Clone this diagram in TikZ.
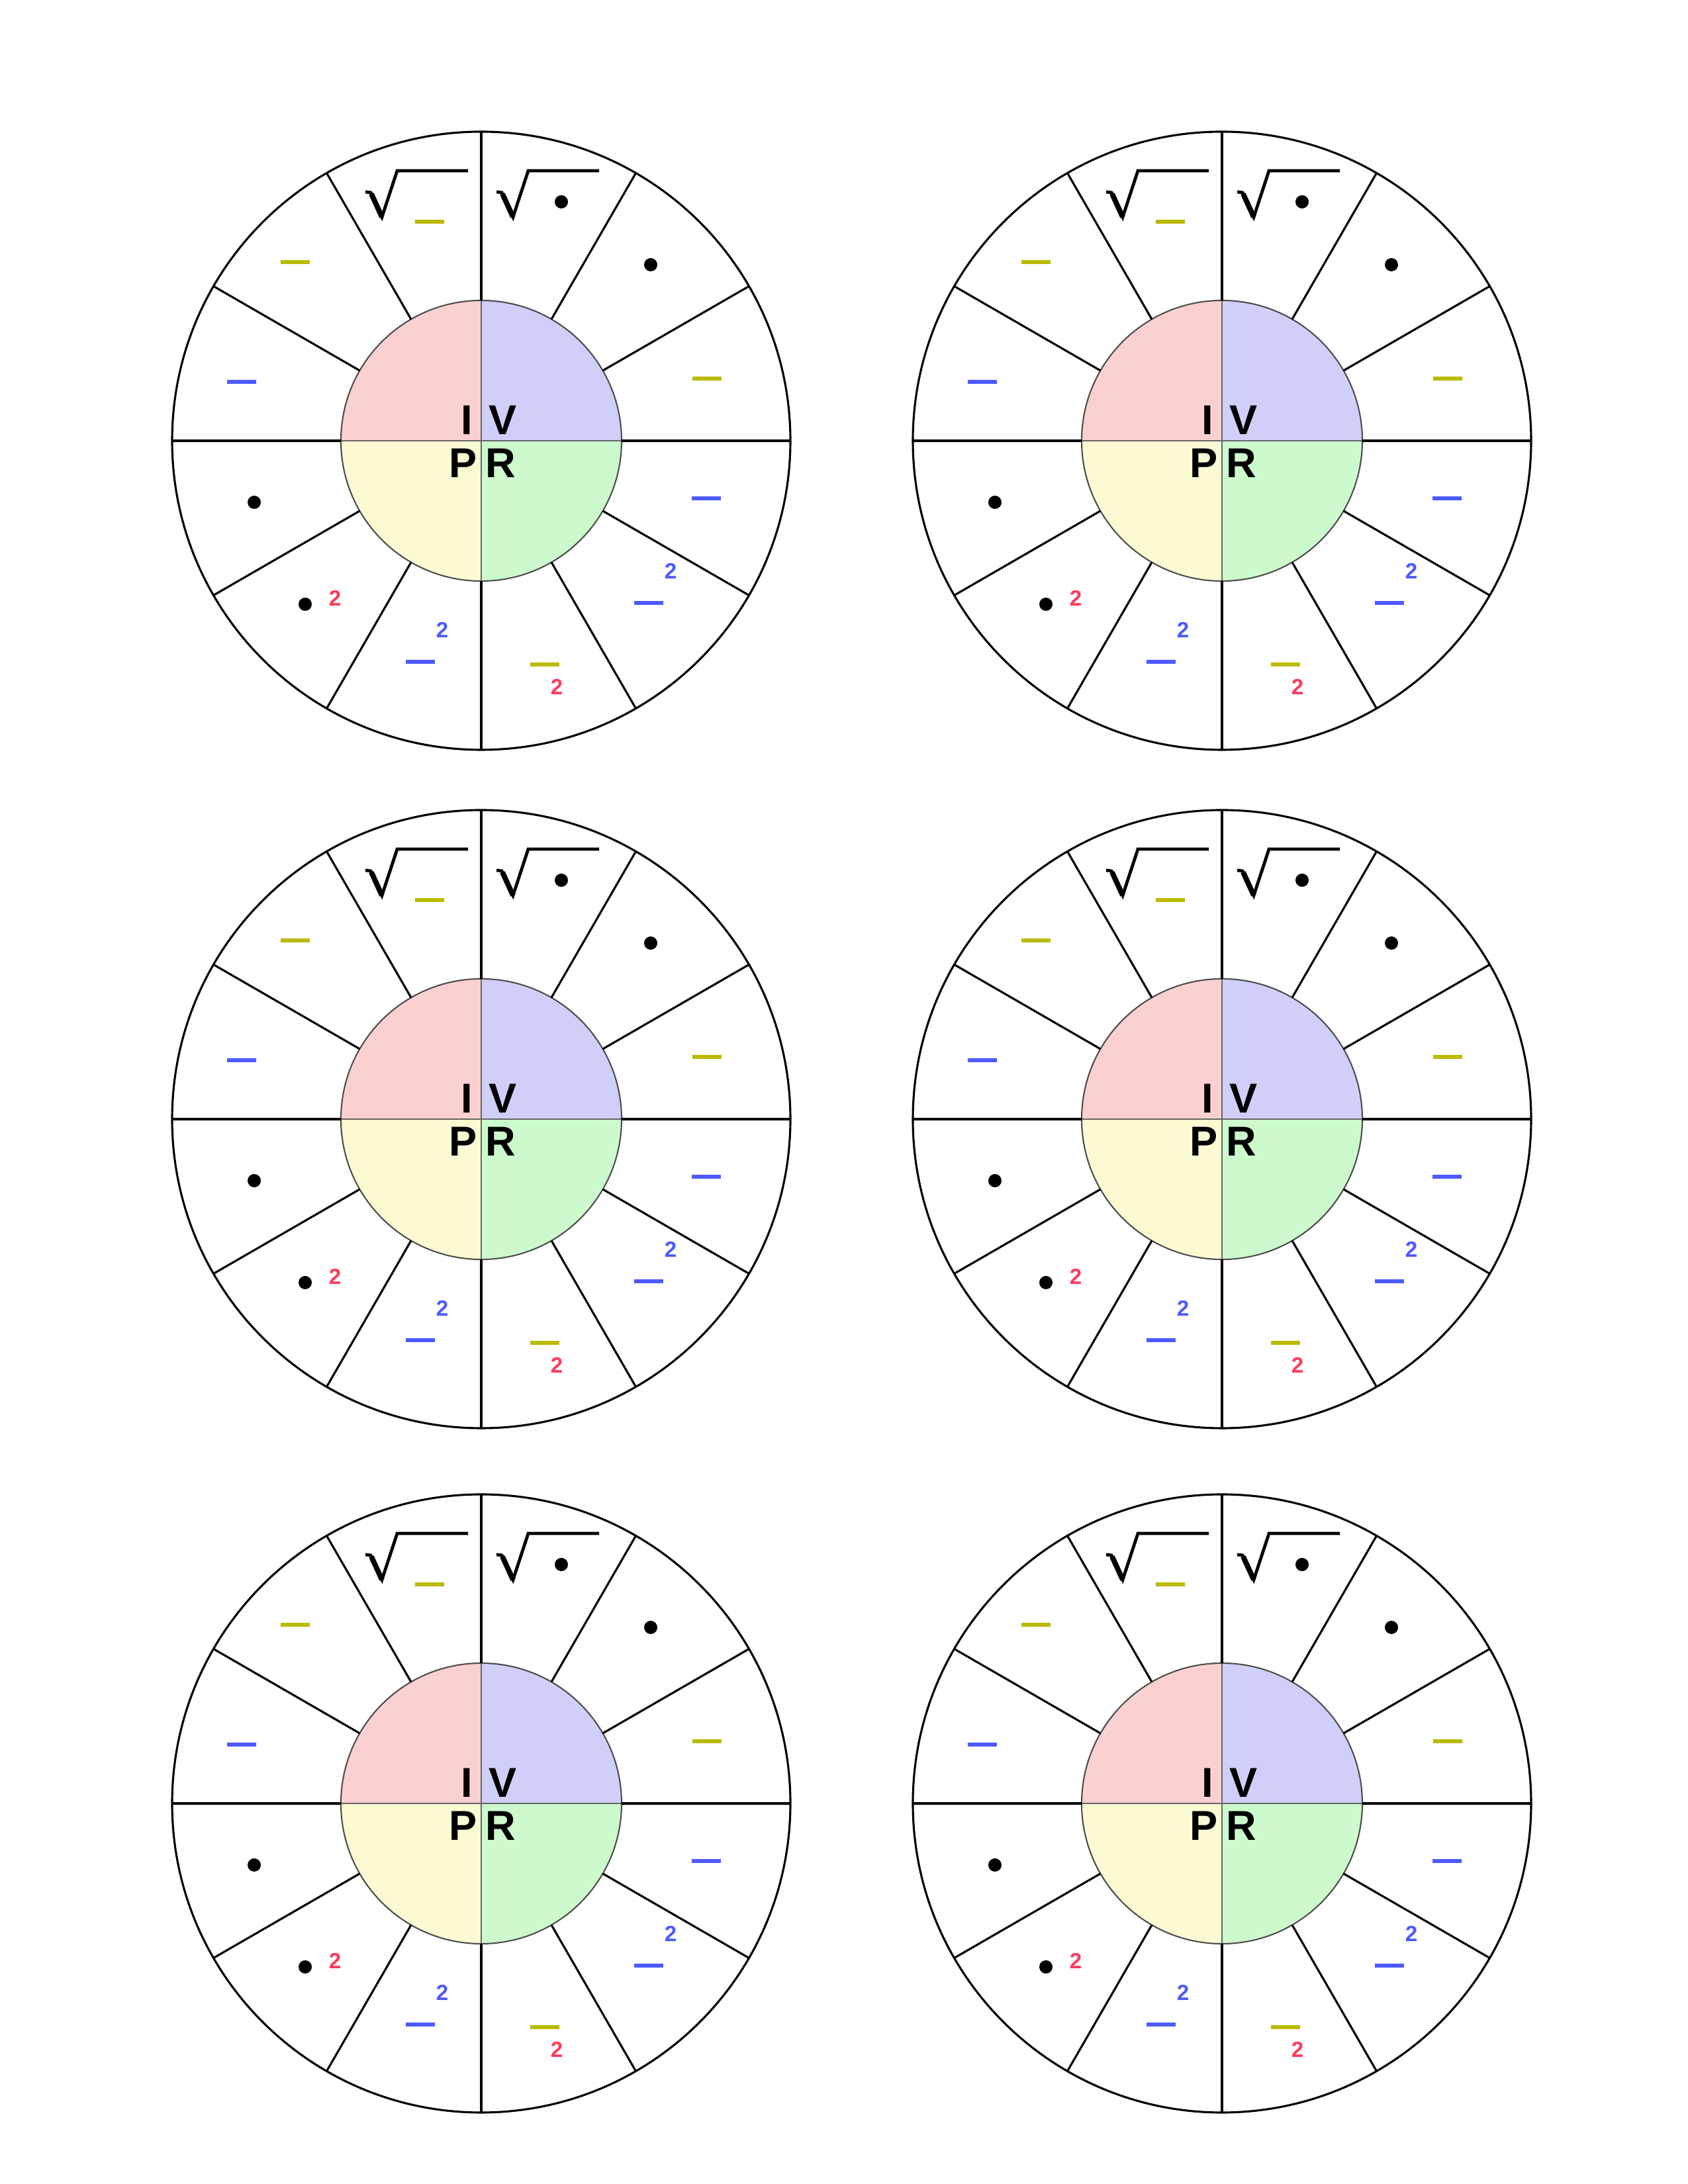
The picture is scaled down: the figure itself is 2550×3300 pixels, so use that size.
\documentclass[tikz,border=0pt]{standalone}
\usepackage{fontspec}
\setmainfont{Liberation Sans}
\definecolor{qpink}{HTML}{FBD0D0}
\definecolor{qblue}{HTML}{CFCFF9}
\definecolor{qyellow}{HTML}{FCFAD3}
\definecolor{qgreen}{HTML}{CDFACD}
\definecolor{dolive}{HTML}{BABA00}
\definecolor{dblue}{HTML}{4D5AFF}
\definecolor{dred}{HTML}{FF3B5C}
\tikzset{
  wline/.style={line width=0.75pt, black},
  qline/.style={line width=0.4pt, black!60},
  rimline/.style={line width=0.5pt, black!70},
  blankbar/.style={line width=1.45pt},
  bigletter/.style={font=\fontsize{15.2}{18}\selectfont\bfseries, inner sep=0pt},
  twolabel/.style={font=\fontsize{8}{10}\selectfont\bfseries, inner sep=0pt},
  radical/.style={line width=1.15pt, line join=miter, line cap=butt},
  radicalthick/.style={line width=1.9pt, line cap=butt},
  dotmark/.style={fill=black}
}
\newcommand{\onewheel}[3]{%
\begin{scope}[shift={(#2,#3)}]
  \fill[qblue] (0,0) -- (212,0) arc[start angle=0, end angle=90, radius=212] -- cycle;
  \fill[qpink] (0,0) -- (0,212) arc[start angle=90, end angle=180, radius=212] -- cycle;
  \fill[qyellow] (0,0) -- (-212,0) arc[start angle=180, end angle=270, radius=212] -- cycle;
  \fill[qgreen] (0,0) -- (0,-212) arc[start angle=270, end angle=360, radius=212] -- cycle;
  \draw[qline] (-212,0) -- (212,0) (0,-212) -- (0,212);
  \draw[rimline] (0,0) circle[radius=212];
  \draw[wline] (0,0) circle[radius=467];
  \foreach \a in {0,30,...,330} \draw[wline] (\a:212) -- (\a:467);
  % centre letters
  \node[bigletter, anchor=base east] (#1I) at (-12,9) {I};
  \node[bigletter, anchor=base west] (#1V) at (11,9) {V};
  \node[bigletter, anchor=base east] (#1P) at (-6,-56) {P};
  \node[bigletter, anchor=base west] (#1R) at (6,-56) {R};
  % radicals
  \draw[radical] (-175,376) -- (-167,375) -- (-150,338) -- (-127,408) -- (-20,408);
  \draw[radicalthick] (-166,373) -- (-150,338);
  \draw[radical] (23,376) -- (31,375) -- (48,338) -- (71,408) -- (178,408);
  \draw[radicalthick] (32,373) -- (48,338);
  % dots
  \fill[dotmark] (121,361) circle[radius=10];
  \fill[dotmark] (256,266) circle[radius=10];
  \fill[dotmark] (-343,-93) circle[radius=10];
  \fill[dotmark] (-266,-247) circle[radius=10];
  % blanks
  \draw[blankbar, dolive] (-100,331) -- (-56,331);
  \draw[blankbar, dolive] (-303,270) -- (-259,270);
  \draw[blankbar, dblue] (-384,89) -- (-340,89);
  \draw[blankbar, dolive] (319,94) -- (363,94);
  \draw[blankbar, dblue] (318,-87) -- (362,-87);
  \draw[blankbar, dblue] (231,-245) -- (275,-245);
  \draw[blankbar, dolive] (74,-338) -- (118,-338);
  \draw[blankbar, dblue] (-114,-334) -- (-70,-334);
  % squares
  \node[twolabel, text=dred] (#1sqa) at (-221,-238) {2};
  \node[twolabel, text=dblue] (#1sqb) at (-59,-286) {2};
  \node[twolabel, text=dred] (#1sqc) at (114,-372) {2};
  \node[twolabel, text=dblue] (#1sqd) at (286,-197) {2};
\end{scope}}
\begin{document}
\begin{tikzpicture}[x=0.0846667mm, y=0.0846667mm]
  \fill[white] (0,0) rectangle (2550,3300);
  \useasboundingbox (0,0) rectangle (2550,3300);
  \onewheel{wa}{727}{2634}
  \onewheel{wb}{1846}{2634}
  \onewheel{wc}{727}{1609}
  \onewheel{wd}{1846}{1609}
  \onewheel{we}{727}{575}
  \onewheel{wf}{1846}{575}
\end{tikzpicture}
\end{document}
